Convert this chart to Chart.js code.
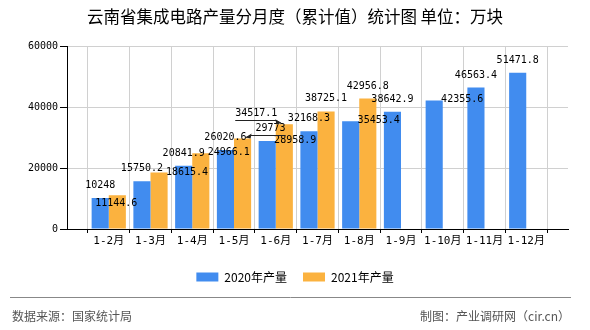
<!DOCTYPE html>
<html lang="zh-CN">
<head>
    <meta charset="UTF-8">
    <title>云南省集成电路产量分月度（累计值）统计图</title>
    <script src="https://cdn.jsdelivr.net/npm/chart.js"></script>
    <style>
        html, body {
            margin: 0;
            padding: 0;
            background: #fff;
        }
        .wrap {
            width: 590px;
            height: 330px;
        }
    </style>
</head>
<body>
    <div class="wrap">
        <canvas id="chart" width="590" height="330"></canvas>
    </div>

    <script>
        const titleText = "云南省集成电路产量分月度（累计值）统计图 单位：万块";
        const sourceText = "数据来源：国家统计局";
        const creditText = "制图：产业调研网（cir.cn）";

        const months = ["1-2月", "1-3月", "1-4月", "1-5月", "1-6月", "1-7月", "1-8月", "1-9月", "1-10月", "1-11月", "1-12月"];
        const output2020 = [10248, 15750.2, 20841.9, 26020.6, 28958.9, 32168.3, 35453.4, 38642.9, 42355.6, 46563.4, 51471.8];
        const output2021 = [11144.6, 18615.4, 24966.1, 29773, 34517.1, 38725.1, 42956.8];
        const yTicks = [0, 20000, 40000, 60000];

        // 数值标签的摆放方式（照原图避让）
        const labelPos2020 = ["top", "top", "top", "top", "right", "top", "right", "top", "right", "top", "top"];
        const labelPos2021 = ["inside", "right", "right", "leaderR", "leaderL", "top", "top"];

        const numFont = "10px 'DejaVu Sans Mono'";

        // 两端各留一个空位，类目落在网格线上
        const xLabels = [""].concat(months, [""]);
        function pad(arr) {
            const out = [null].concat(arr);
            while (out.length < xLabels.length) out.push(null);
            return out;
        }

        const valueLabels = {
            id: "valueLabels",
            afterDatasetsDraw(chart) {
                const ctx = chart.ctx;
                ctx.save();
                ctx.font = numFont;
                ctx.fillStyle = "#000";
                ctx.strokeStyle = "#222";
                ctx.lineWidth = 1;
                ctx.textAlign = "center";
                ctx.textBaseline = "middle";
                chart.data.datasets.forEach((ds, di) => {
                    const meta = chart.getDatasetMeta(di);
                    meta.data.forEach((bar, i) => {
                        const v = ds.data[i];
                        if (v == null) return;
                        const pos = ds.labelPos[i - 1];
                        const text = String(v);
                        let x = bar.x;
                        let y = bar.y - 12.5;
                        if (pos === "right") {
                            x = bar.x + 28;
                            y = bar.y - 0.5;
                        } else if (pos === "inside") {
                            x = bar.x - 1;
                            y = bar.y + 8;
                        } else if (pos === "leaderR" || pos === "leaderL") {
                            const dir = pos === "leaderR" ? 1 : -1;
                            x = bar.x + dir * 28;
                            y = bar.y - 10.5;
                            const w = ctx.measureText(text).width;
                            const ly = Math.round(bar.y - 4) + 0.5;
                            const tipX = bar.x + dir * 3;
                            const tipY = bar.y - 1;
                            ctx.beginPath();
                            ctx.moveTo(x + dir * w / 2, ly);
                            ctx.lineTo(bar.x + dir * 8, ly);
                            ctx.lineTo(tipX, tipY);
                            ctx.stroke();
                            ctx.beginPath();
                            ctx.moveTo(tipX, tipY);
                            ctx.lineTo(tipX + dir * 6, tipY - 4);
                            ctx.lineTo(tipX + dir * 5, tipY + 1);
                            ctx.closePath();
                            ctx.fillStyle = "#222";
                            ctx.fill();
                            ctx.fillStyle = "#000";
                        }
                        ctx.fillText(text, x, y);
                    });
                });
                ctx.restore();
            }
        };

        const footer = {
            id: "footer",
            afterDraw(chart) {
                const ctx = chart.ctx;
                ctx.save();
                ctx.strokeStyle = "#888";
                ctx.lineWidth = 1;
                ctx.beginPath();
                ctx.moveTo(10, 297.5);
                ctx.lineTo(571, 297.5);
                ctx.stroke();
                ctx.font = "12px 'Noto Sans CJK SC'";
                ctx.fillStyle = "#555";
                ctx.textBaseline = "middle";
                ctx.textAlign = "left";
                ctx.fillText(sourceText, 12, 316);
                ctx.textAlign = "right";
                ctx.fillText(creditText, 570, 316);
                ctx.restore();
            }
        };

        Chart.defaults.color = "#000";
        Chart.defaults.font.family = "'Noto Sans CJK SC', 'DejaVu Sans'";

        new Chart(document.getElementById("chart").getContext("2d"), {
            type: "bar",
            data: {
                labels: xLabels,
                datasets: [
                    {
                        label: "2020年产量",
                        data: pad(output2020),
                        labelPos: labelPos2020,
                        backgroundColor: "#418cef"
                    },
                    {
                        label: "2021年产量",
                        data: pad(output2021),
                        labelPos: labelPos2021,
                        backgroundColor: "#fbb23f"
                    }
                ]
            },
            options: {
                responsive: false,
                animation: false,
                devicePixelRatio: 1,
                layout: {
                    padding: { left: 0, right: 0, top: 0, bottom: 37 }
                },
                datasets: {
                    bar: { categoryPercentage: 0.82, barPercentage: 1 }
                },
                plugins: {
                    title: {
                        display: true,
                        text: titleText,
                        color: "#000",
                        font: { size: 16.5, weight: "normal", family: "'Noto Sans CJK SC'" },
                        padding: { top: 7, bottom: 20 }
                    },
                    legend: {
                        position: "bottom",
                        labels: {
                            boxWidth: 22,
                            boxHeight: 9,
                            padding: 16,
                            color: "#000",
                            font: { size: 12, family: "'Noto Sans CJK SC'" }
                        }
                    },
                    tooltip: { enabled: false }
                },
                scales: {
                    x: {
                        offset: false,
                        grid: { color: "#d0d0d0", tickColor: "#000", tickLength: 4 },
                        border: { color: "#000" },
                        ticks: {
                            autoSkip: false,
                            maxRotation: 0,
                            padding: 2,
                            color: "#000",
                            font: { size: 11, family: "'DejaVu Sans Mono', 'Noto Sans CJK SC'" }
                        },
                        afterFit(scale) { scale.height = 26; }
                    },
                    y: {
                        min: 0,
                        max: 60000,
                        grid: { color: "#d0d0d0", tickColor: "#000", tickLength: 7 },
                        border: { color: "#000" },
                        ticks: {
                            padding: 2,
                            color: "#000",
                            font: { size: 10, family: "'DejaVu Sans Mono'" },
                            callback: v => String(v)
                        },
                        afterBuildTicks(scale) {
                            scale.ticks = yTicks.map(v => ({ value: v }));
                        },
                        afterFit(scale) { scale.width = 67; }
                    },
                    // 右侧留白，让标题和图例仍以整幅图居中
                    gap: {
                        type: "linear",
                        position: "right",
                        grid: { display: false },
                        border: { display: false },
                        ticks: { display: false },
                        afterFit(scale) { scale.width = 22; }
                    }
                }
            },
            plugins: [valueLabels, footer]
        });
    </script>
</body>
</html>
